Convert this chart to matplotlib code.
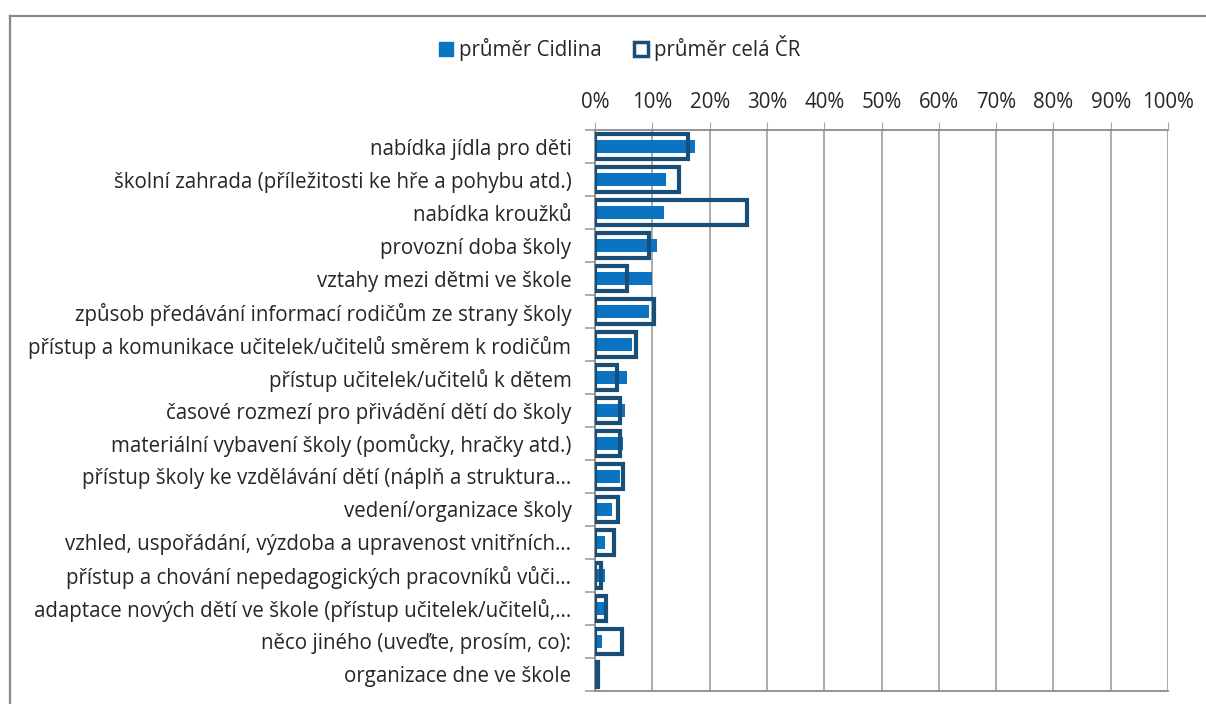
import matplotlib.pyplot as plt
from matplotlib.lines import Line2D
from matplotlib.patches import Patch
import numpy as np

plt.rcParams['font.family'] = ['Open Sans', 'DejaVu Sans']

categories = [
    'nabídka jídla pro děti',
    'školní zahrada (příležitosti ke hře a pohybu atd.)',
    'nabídka kroužků',
    'provozní doba školy',
    'vztahy mezi dětmi ve škole',
    'způsob předávání informací rodičům ze strany školy',
    'přístup a komunikace učitelek/učitelů směrem k rodičům',
    'přístup učitelek/učitelů k dětem',
    'časové rozmezí pro přivádění dětí do školy',
    'materiální vybavení školy (pomůcky, hračky atd.)',
    'přístup školy ke vzdělávání dětí (náplň a struktura…',
    'vedení/organizace školy',
    'vzhled, uspořádání, výzdoba a upravenost vnitřních…',
    'přístup a chování nepedagogických pracovníků vůči…',
    'adaptace nových dětí ve škole (přístup učitelek/učitelů,…',
    'něco jiného (uveďte, prosím, co):',
    'organizace dne ve škole',
]
cidlina = [17.5, 12.4, 12.0, 10.9, 9.9, 9.5, 6.5, 5.5, 5.3, 4.8, 4.3, 2.9, 1.8, 1.8, 1.7, 1.3, 0.3]
cela_cr = [16.3, 14.6, 26.6, 9.4, 5.6, 10.3, 7.2, 3.8, 4.4, 4.3, 4.9, 4.0, 3.3, 1.0, 2.0, 4.7, 0.6]
x_ticks = list(range(0, 101, 10))

c_fill = '#0A74C2'
c_edge = '#184E78'
grid_c = '#A6A6A6'
txt_c = '#262626'
fs = 14.8

fig = plt.figure(figsize=(12.06, 7.04), dpi=100)
ax = fig.add_axes([0.4934, 0.0185, 0.4751, 0.7968])

y = np.arange(len(categories))
ax.barh(y, cidlina, height=0.4, color=c_fill, zorder=2)
ax.barh(y, cela_cr, height=0.73, facecolor='none', edgecolor=c_edge,
        linewidth=3, zorder=3)

ax.set_xlim(0, 100)
ax.set_ylim(len(categories) - 0.5, -0.5)
ax.xaxis.tick_top()
ax.set_xticks(x_ticks)
ax.set_xticklabels([f'{v}%' for v in x_ticks])
ax.tick_params(axis='x', length=6, color=grid_c, pad=6, labelsize=fs, labelcolor=txt_c)
ax.grid(axis='x', color=grid_c, linewidth=1.3, zorder=0)

ax.set_yticks(y)
ax.set_yticklabels(categories)
ax.set_yticks(np.arange(len(categories) + 1) - 0.5, minor=True)
ax.tick_params(axis='y', which='major', length=0, pad=17, labelsize=fs, labelcolor=txt_c)
ax.tick_params(axis='y', which='minor', length=7, color=grid_c, width=1.3)

for s in ['top', 'bottom', 'left']:
    ax.spines[s].set_color('#8C8C8C')
    ax.spines[s].set_linewidth(1.3)
ax.spines['right'].set_visible(False)

handles = [Patch(facecolor=c_fill, edgecolor=c_fill, label='průměr Cidlina'),
           Patch(facecolor='white', edgecolor=c_edge, linewidth=2.5, label='průměr celá ČR')]
fig.legend(handles=handles, loc='center', bbox_to_anchor=(0.514, 0.932), ncol=2,
           frameon=False, fontsize=fs, handlelength=0.65, handleheight=0.65,
           handletextpad=0.3, columnspacing=1.6, labelcolor=txt_c)

# chart border (only top and left edges fall inside the picture)
fig.add_artist(Line2D([10 / 1206, 1.0], [1 - 16 / 704, 1 - 16 / 704],
                      color='#888888', linewidth=1.6, transform=fig.transFigure))
fig.add_artist(Line2D([10 / 1206, 10 / 1206], [0, 1 - 16 / 704],
                      color='#888888', linewidth=1.6, transform=fig.transFigure))

fig.savefig('out.png', dpi=100)
